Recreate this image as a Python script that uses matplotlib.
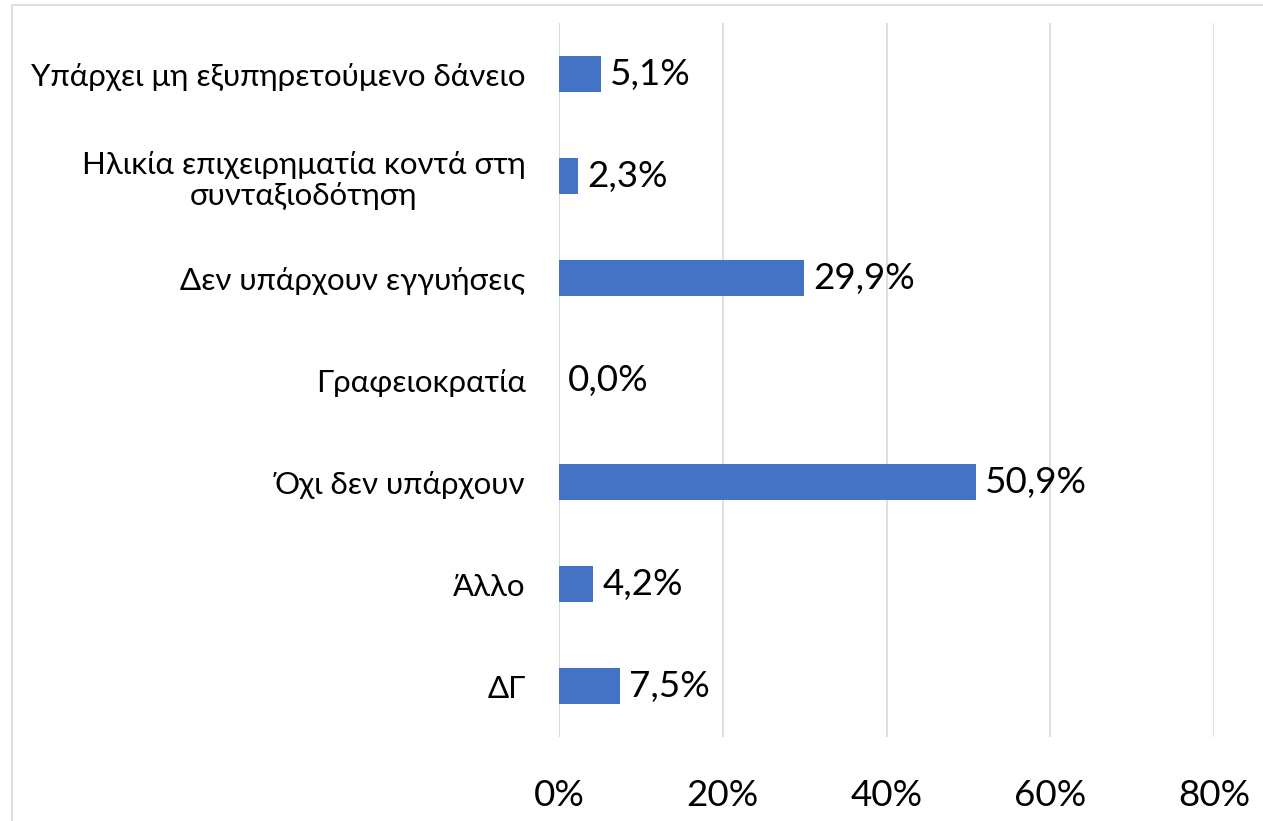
import matplotlib
matplotlib.use("Agg")
import matplotlib.pyplot as plt
from matplotlib.patches import Rectangle
from matplotlib.ticker import FixedLocator

categories = ["Υπάρχει μη εξυπηρετούμενο δάνειο",
              "Ηλικία επιχειρηματία κοντά στη\nσυνταξιοδότηση",
              "Δεν υπάρχουν εγγυήσεις",
              "Γραφειοκρατία",
              "Όχι δεν υπάρχουν",
              "Άλλο",
              "ΔΓ"]
values = [5.1, 2.3, 29.9, 0.0, 50.9, 4.2, 7.5]
xticks = [0, 20, 40, 60, 80]
xtick_labels = ["0%", "20%", "40%", "60%", "80%"]

plt.rcParams['font.family'] = ['Lato', 'DejaVu Sans']

W, H = 1263, 821
fig = plt.figure(figsize=(W/100, H/100), dpi=100)
fig.patches.append(Rectangle((12/W, -0.1), 1.2, (H-5)/H + 0.1, transform=fig.transFigure,
                             fill=False, edgecolor='#d9d9d9', linewidth=1.2))
ax = fig.add_axes([559/W, 84/H, (1214-559)/W, (798-84)/H])

y = list(range(len(categories)))
ax.barh(y, values, height=0.35, color='#4472C4', zorder=3)
for yi, v in zip(y, values):
    ax.text(v + 1.1, yi, f"{v:.1f}%".replace('.', ','), va='center', ha='left',
            fontsize=26.5, color='black', zorder=4)

ax.set_ylim(len(categories) - 0.5, -0.5)
ax.set_xlim(0, 80)
ax.xaxis.set_major_locator(FixedLocator(xticks))
ax.set_xticklabels(xtick_labels, fontsize=26.5)
ax.set_yticks(y)
ax.set_yticklabels(categories, fontsize=22.5, multialignment='center', linespacing=1.15)
ax.tick_params(axis='x', length=0, pad=30)
ax.tick_params(axis='y', length=0, pad=24)
ax.grid(axis='x', color='#d9d9d9', linewidth=1.2, zorder=0)
for s in ax.spines.values():
    s.set_visible(False)
ax.axvline(0, color='#d9d9d9', linewidth=1.2, zorder=1)

fig.savefig("out.png", dpi=100)
